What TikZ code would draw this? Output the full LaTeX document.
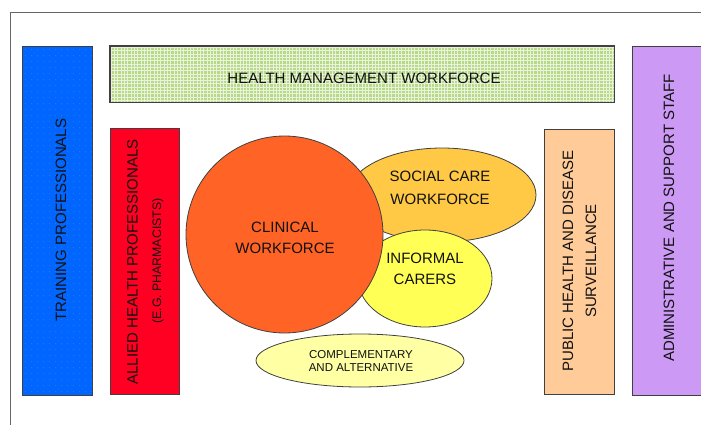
\documentclass[tikz,border=0pt]{standalone}
\usepackage{fontspec}
\setmainfont{Liberation Sans}
\usetikzlibrary{shapes.geometric}
\definecolor{tblue}{HTML}{0066FF}
\definecolor{ared}{HTML}{FF0022}
\definecolor{peach}{HTML}{FFCC99}
\definecolor{lilac}{HTML}{CC99F5}
\definecolor{hmgreen}{HTML}{B8DA88}
\definecolor{clin}{HTML}{FF6426}
\definecolor{social}{HTML}{FFC845}
\definecolor{informal}{HTML}{FFFF55}
\definecolor{comp}{HTML}{FFFFA3}
\definecolor{boxline}{HTML}{404040}
\definecolor{frameline}{HTML}{666666}
\definecolor{txt}{HTML}{111111}
\begin{document}
\begin{tikzpicture}[x=1pt,y=-1pt,
  box/.style={rectangle, draw=boxline, line width=0.8pt, inner sep=0pt},
  blob/.style={ellipse, draw=boxline, line width=0.8pt, inner sep=0pt},
  lbl/.style={font=\fontsize{15}{22}\selectfont, align=center, text=txt, inner sep=0pt},
  smalllbl/.style={font=\fontsize{11.5}{13}\selectfont, align=center, text=txt, inner sep=0pt}]
\useasboundingbox (0,0) rectangle (701,425);
% frame
\coordinate (fbl) at (10,425);
\coordinate (ftr) at (701,13);
\draw[frameline, line width=1pt] (fbl) |- (ftr);

% training professionals
\node[box, fill=tblue, minimum width=70pt, minimum height=349pt] (train) at (57,220.5) {};
\foreach \i in {0,...,11}
  \foreach \j in {0,...,57}
    \fill[white, opacity=0.18] (25.5+6*\i, 49.5+6*\j) circle (0.45);
\node[lbl, rotate=90] (trainT) at (61,220) {TRAINING PROFESSIONALS};

% health management workforce
\node[box, fill=hmgreen, minimum width=504pt, minimum height=56pt,
  path picture={\draw[white, line width=0.8pt, opacity=0.7]
    (path picture bounding box.south west) grid[step=3.3pt] (path picture bounding box.north east);}]
  (hm) at (362,74) {};
\draw[boxline, line width=0.8pt] (hm.north west) rectangle (hm.south east);
\node[lbl] (hmT) at (364,78) {HEALTH MANAGEMENT WORKFORCE};

% administrative and support staff
\node[box, fill=lilac, minimum width=80pt, minimum height=349pt] (admin) at (672,220.5) {};
\node[lbl, rotate=90] (adminT) at (669,218) {ADMINISTRATIVE AND SUPPORT STAFF};

% allied health professionals
\node[box, fill=ared, minimum width=69pt, minimum height=266pt] (allied) at (144.5,261.5) {};
\node[lbl, rotate=90] (alliedA) at (132.5,262) {ALLIED HEALTH PROFESSIONALS};
\node[lbl, rotate=90, font=\fontsize{12.3}{14}\selectfont] (alliedB) at (158,261) {(E.G. PHARMACISTS)};

% public health
\node[box, fill=peach, minimum width=70pt, minimum height=265pt] (pub) at (579,261.5) {};
\node[lbl, rotate=90, font=\fontsize{15}{23}\selectfont] (pubT) at (579.5,261) {PUBLIC HEALTH AND DISEASE\\SURVEILLANCE};

% blobs
\node[blob, fill=social, minimum width=188pt, minimum height=94pt] (soc) at (442,195) {};
\node[blob, fill=informal, minimum width=134pt, minimum height=97pt] (inf) at (425,278.5) {};
\node[circle, draw=boxline, line width=0.8pt, inner sep=0pt, fill=clin, minimum size=197pt] (clinical) at (284.5,234.5) {};
\node[blob, fill=comp, minimum width=208pt, minimum height=53pt] (compl) at (360,360.5) {};

\node[lbl, font=\fontsize{15}{23}\selectfont] (socT) at (440,188) {SOCIAL CARE\\WORKFORCE};
\node[lbl, font=\fontsize{15}{21}\selectfont] (infT) at (425,269) {INFORMAL\\CARERS};
\node[lbl, font=\fontsize{15}{21}\selectfont] (clinT) at (285,238) {CLINICAL\\WORKFORCE};
\node[smalllbl] (compT) at (361,361) {COMPLEMENTARY\\AND ALTERNATIVE};
\end{tikzpicture}
\end{document}
